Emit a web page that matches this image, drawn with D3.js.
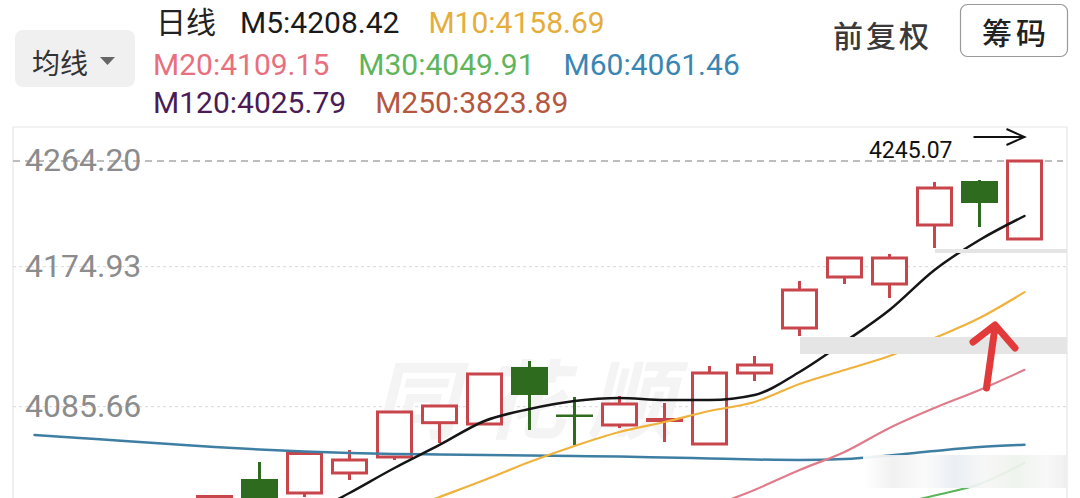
<!DOCTYPE html>
<html><head><meta charset="utf-8">
<script src="https://cdn.jsdelivr.net/npm/d3@7"></script>
<style>
html,body{margin:0;padding:0;background:#fff;overflow:hidden}
svg{display:block;font-family:Roboto,"Noto Sans CJK SC",sans-serif}
</style>
</head><body>
<svg id="c" width="1080" height="498"></svg>
<script>
// ---------- data ----------
const days = ["d01","d02","d03","d04","d05","d06","d07","d08","d09","d10","d11","d12",
              "d13","d14","d15","d16","d17","d18","d19","d20","d21","d22","d23"];
const open  = [null,null,null,null,4007.05,4039.57,4030.64,4043.39,4053.59,4075.46,4074.63,4110.98,
               4080.69,4074.00,4076.87,4061.88,4107.15,4135.84,4168.36,4163.90,4210.15,4247.31,4198.33];
const high  = [null,null,null,null,4028.41,4050.41,4055.83,4058.06,4082.29,4086.11,4106.52,4114.80,
               4091.85,4092.49,4088.03,4111.62,4117.99,4165.81,4182.28,4185.66,4246.47,4248.16,4264.20];
const low   = [null,null,null,null,4000.00,4010.00,4028.09,4038.93,4051.68,4062.52,4074.63,4070.81,
               4061.25,4072.09,4063.16,4061.88,4102.05,4130.74,4163.90,4154.97,4190.72,4208.46,4198.33];
const close = [null,null,null,null,4028.41,4020.00,4055.83,4051.68,4082.29,4086.11,4106.52,4093.13,
               4080.06,4087.39,4077.50,4107.15,4112.25,4160.07,4182.28,4182.28,4241.40,4228.73,4264.20];

const ma5  = [null,null,null,null,null,null,4015.34,4030.64,4046.58,4061.25,4076.55,4084.20,
              4089.30,4091.21,4089.94,4089.94,4093.13,4107.79,4126.92,4147.32,4172.83,4197.48,4217.75];
const ma10 = [null,null,null,null,null,null,null,null,4017.25,4028.09,4038.93,4050.41,
              4060.61,4069.53,4075.91,4082.92,4088.66,4100.14,4109.07,4117.99,4129.47,4142.22,4158.69];
const ma20 = [null,null,null,null,null,null,null,null,null,null,null,null,
              null,null,null,4021.72,4032.55,4045.31,4056.78,4072.09,4084.84,4096.32,4109.15];
const ma30 = [null,null,null,null,null,null,null,null,null,null,null,null,
              null,null,null,null,null,null,null,4022.35,4029.05,4036.38,4049.91];
const ma60 = [4067.62,4065.71,4063.80,4061.88,4059.97,4058.38,4057.10,4056.15,4055.51,4055.19,4054.87,4054.55,
              4054.23,4053.91,4053.28,4052.64,4052.00,4051.68,4052.32,4054.55,4057.42,4059.97,4061.46];

const legendNames  = ["M5","M10","M20","M30","M60","M120","M250"];
const legendValues = [4208.42,4158.69,4109.15,4049.91,4061.46,4025.79,3823.89];
const legendRows   = [0,0,1,1,1,2,2];
const tickValues   = [4085.66,4174.93,4264.20];
const markerValue  = 4245.07;

// ---------- styles ----------
const legendColors = ["#1a1a1a","#e5ad3a","#e8707e","#5fb55c","#3a86b3","#4a1b55","#b5573f"];
const lineColors = {ma5:"#151515", ma10:"#efb23c", ma20:"#e07b8b", ma30:"#5bb55b", ma60:"#3f7ea3"};
const RED = "#c8454b", GREEN = "#2f6b1f";

const svg = d3.select("#c");
const frame = {l:13, r:1067, t:127, b:498};

const x = d3.scalePoint().domain(days).range([34.5, 1024.5]);
const y = d3.scaleLinear().domain(tickValues).range([406.7, 266.7, 161]);

// ---------- header ----------
const hdr = svg.append("g");
hdr.append("rect").attr("x",15).attr("y",30).attr("width",120).attr("height",57).attr("rx",8).attr("fill","#f0f0f0");
hdr.append("text").attr("x",32).attr("y",74).attr("font-size",28).attr("fill","#333").text("均线");
hdr.append("path").attr("d","M100,57 L115,57 L107.5,65 Z").attr("fill","#666");

hdr.append("text").attr("x",156).attr("y",33).attr("font-size",30).attr("fill","#222").text("日线");
const rowY = [33,75,113];
const rowStart = [240,153,153];
const cursor = rowStart.slice();
legendNames.forEach((n,i)=>{
  const r = legendRows[i];
  const t = hdr.append("text").attr("x",cursor[r]).attr("y",rowY[r]).attr("font-size",30)
    .attr("fill",legendColors[i]).text(n+":"+legendValues[i].toFixed(2));
  cursor[r] += t.node().getComputedTextLength() + 29;
});
hdr.append("text").attr("x",833).attr("y",47).attr("font-size",30).attr("letter-spacing",3)
  .attr("font-weight",500).attr("fill","#3a3a3a").text("前复权");
hdr.append("rect").attr("x",960.5).attr("y",4.5).attr("width",107).attr("height",52).attr("rx",7)
  .attr("fill","#fff").attr("stroke","#999").attr("stroke-width",1.2);
hdr.append("text").attr("x",982).attr("y",44).attr("font-size",30).attr("letter-spacing",4)
  .attr("font-weight",500).attr("fill","#222").text("筹码");

// ---------- frame & grid ----------
svg.append("defs").append("clipPath").attr("id","plot")
  .append("rect").attr("x",frame.l).attr("y",frame.t).attr("width",frame.r-frame.l).attr("height",frame.b-frame.t);

const fr = svg.append("g").attr("stroke","#e6e6e6").attr("stroke-width",1.2);
fr.append("line").attr("x1",frame.l).attr("x2",frame.r).attr("y1",frame.t).attr("y2",frame.t);
fr.append("line").attr("x1",frame.l).attr("x2",frame.l).attr("y1",frame.t).attr("y2",frame.b);
fr.append("line").attr("x1",frame.r).attr("x2",frame.r).attr("y1",frame.t).attr("y2",frame.b);

const grid = svg.append("g");
tickValues.forEach((v,i)=>{
  const top = i === tickValues.length-1;
  grid.append("line").attr("x1",frame.l).attr("x2",top?1063:frame.r).attr("y1",y(v)).attr("y2",y(v))
    .attr("stroke",top?"#a8a8a8":"#d8d8d8").attr("stroke-width",top?1.5:1)
    .attr("stroke-dasharray",top?"7,5":"3,3");
});

// watermark
svg.append("text").attr("x",372).attr("y",432).attr("font-size",86).attr("font-weight","bold")
  .attr("font-style","italic").attr("letter-spacing",22).attr("fill","#f4f4f4").text("同花顺");

// ---------- candles ----------
const plot = svg.append("g").attr("clip-path","url(#plot)");
const candles = days.map((d,i)=>({d,o:open[i],h:high[i],l:low[i],c:close[i]})).filter(k=>k.o!=null);
const cg = plot.append("g");
candles.forEach(k=>{
  const cx = x(k.d), up = k.c >= k.o;
  if (up) {
    cg.append("line").attr("x1",cx).attr("x2",cx).attr("y1",y(k.h)).attr("y2",y(k.c)).attr("stroke",RED).attr("stroke-width",3);
    cg.append("line").attr("x1",cx).attr("x2",cx).attr("y1",y(k.o)).attr("y2",y(k.l)).attr("stroke",RED).attr("stroke-width",3);
    cg.append("rect").attr("x",cx-17).attr("y",y(k.c)).attr("width",34).attr("height",Math.max(1,y(k.o)-y(k.c)))
      .attr("fill","#fff").attr("stroke",RED).attr("stroke-width",3);
  } else {
    cg.append("line").attr("x1",cx).attr("x2",cx).attr("y1",y(k.h)).attr("y2",y(k.l)).attr("stroke",GREEN).attr("stroke-width",3);
    const h = Math.max(2.5, y(k.c)-y(k.o));
    cg.append("rect").attr("x",cx-18.5).attr("y",y(k.o)).attr("width",37).attr("height",h).attr("fill",GREEN);
  }
});

// ---------- MA lines ----------
const mkLine = d3.line().defined(v=>v!=null).x((v,i)=>x(days[i])).y(v=>y(v)).curve(d3.curveMonotoneX);
const series = [["ma60",ma60,2.5],["ma30",ma30,2.2],["ma20",ma20,2.2],["ma10",ma10,2.2],["ma5",ma5,2.5]];
series.forEach(([k,arr,w])=>{
  plot.append("path").attr("d",mkLine(arr)).attr("fill","none").attr("stroke",lineColors[k])
    .attr("stroke-width",w).attr("stroke-linejoin","round").attr("stroke-linecap","round");
});

// ---------- overlays (screenshot artifacts / annotations) ----------
const ov = svg.append("g");
ov.append("rect").attr("x",800).attr("y",337).attr("width",frame.r-800).attr("height",17).attr("fill","#e5e5e5");
ov.append("rect").attr("x",935).attr("y",249).attr("width",frame.r-935).attr("height",4).attr("fill","#e5e5e5");
const blur = svg.append("defs").append("linearGradient").attr("id","blurg");
[[0,"#ffffff"],[0.15,"#f0f0f0"],[0.3,"#fafafa"],[0.45,"#e9eef2"],[0.6,"#f6f6f6"],[0.75,"#eef3ec"],[0.9,"#f7f7f7"],[1,"#eeeeee"]]
  .forEach(([o,c])=>blur.append("stop").attr("offset",o).attr("stop-color",c));
ov.append("rect").attr("x",863).attr("y",455).attr("width",frame.r-863).attr("height",33)
  .attr("fill","url(#blurg)").attr("opacity",0.93);

// red hand-drawn arrow
const ax = x(days[21]);
ov.append("path").attr("d",`M${ax+7},388 L${ax+15.5},327 M${ax-6.5},342 L${ax+15.5},325 L${ax+35.5},348`)
  .attr("fill","none").attr("stroke","#e23a3a").attr("stroke-width",7)
  .attr("stroke-linecap","round").attr("stroke-linejoin","round");

// high marker
const lx = x(days[22]);
ov.append("text").attr("x",lx-72).attr("y",158).attr("text-anchor","end").attr("font-size",23)
  .attr("fill","#111").text(markerValue.toFixed(2));
ov.append("path").attr("d",`M${lx-51},137 L${lx},137 M${lx-18},129 L${lx},137 L${lx-18},145`)
  .attr("fill","none").attr("stroke","#111").attr("stroke-width",2);

// y labels
tickValues.forEach(v=>{
  svg.append("text").attr("x",25).attr("y",y(v)+10).attr("font-size",32).attr("fill","#8c8c8c")
    .text(d3.format(".2f")(v));
});
</script>
</body></html>
